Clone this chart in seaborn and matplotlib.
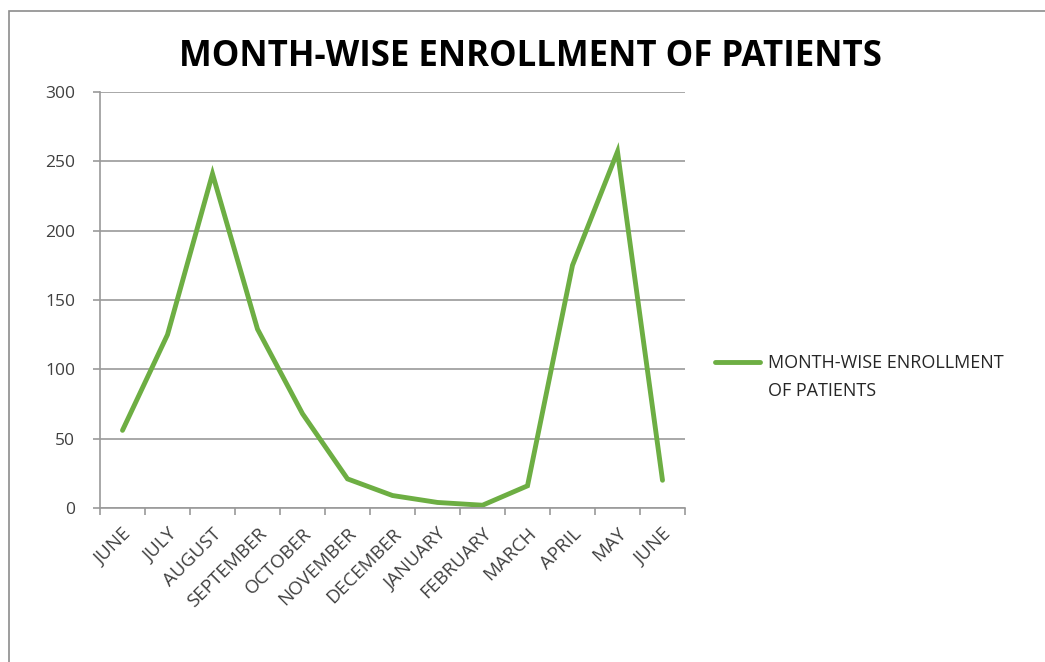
import matplotlib
matplotlib.use("Agg")
from matplotlib import pyplot as plt
from matplotlib.patches import Rectangle
import seaborn as sns
import pandas as pd

# chart data
months = ["JUNE", "JULY", "AUGUST", "SEPTEMBER", "OCTOBER", "NOVEMBER", "DECEMBER",
          "JANUARY", "FEBRUARY", "MARCH", "APRIL", "MAY", "JUNE"]
patients = [56, 125, 241, 129, 68, 21, 9, 4, 2, 16, 175, 257, 20]
y_ticks = [0, 50, 100, 150, 200, 250, 300]
series_name = "MONTH-WISE ENROLLMENT OF PATIENTS"

sns.set_style("white", {"xtick.bottom": True, "ytick.left": True})
plt.rcParams["font.family"] = ["Open Sans", "DejaVu Sans"]

df = pd.DataFrame({"pos": range(len(months)), "value": patients})

fig = plt.figure(figsize=(10.45, 6.62), dpi=100)
ax = fig.add_axes([100 / 1045, 1 - 508 / 662, 585 / 1045, 416 / 662])

sns.lineplot(data=df, x="pos", y="value", ax=ax, color="#6DAE43", linewidth=3.5,
             label="MONTH-WISE ENROLLMENT", solid_joinstyle="miter")

grey = "#9A9A9A"
ax.set_xlim(-0.5, len(months) - 0.5)
ax.set_ylim(0, 300)
ax.set_yticks(y_ticks)
ax.set_yticklabels([str(t) for t in y_ticks], fontsize=12.5, color="#404040")
ax.yaxis.grid(True, color=grey, linewidth=1.2)
ax.set_xticks(range(len(months)))
ax.set_xticklabels(months, rotation=45, ha="right", rotation_mode="anchor",
                   fontsize=13.5, color="#404040")
ax.set_xticks([i - 0.5 for i in range(len(months) + 1)], minor=True)
ax.tick_params(axis="x", which="major", length=0, pad=12)
ax.tick_params(axis="x", which="minor", length=5, color=grey, width=1.2, direction="out")
ax.tick_params(axis="y", length=5, color=grey, width=1.2, direction="out", pad=13)
ax.set_xlabel("")
ax.set_ylabel("")

for side in ["top", "right"]:
    ax.spines[side].set_visible(False)
for side in ["left", "bottom"]:
    ax.spines[side].set_color(grey)
    ax.spines[side].set_linewidth(1.2)

leg = ax.legend(loc="center left", bbox_to_anchor=(1.051, 1 - (363 - 92) / 416),
                frameon=False, fontsize=13, handlelength=2.5, handletextpad=0.45,
                borderaxespad=0, borderpad=0)
leg.get_texts()[0].set_color("#262626")
fig.text(768 / 1045, 1 - 391 / 662, "OF PATIENTS", fontsize=13, color="#262626",
         ha="left", va="center")

fig.text(530 / 1045, 1 - 57 / 662, series_name, fontsize=25, fontweight="bold",
         ha="center", va="center", color="black")

fig.patches.append(Rectangle((9 / 1045, -0.1), 1.2, 1 - 11 / 662 + 0.1,
                             transform=fig.transFigure, fill=False,
                             edgecolor="#8C8C8C", linewidth=1.2))

fig.savefig("out.png", dpi=100)
